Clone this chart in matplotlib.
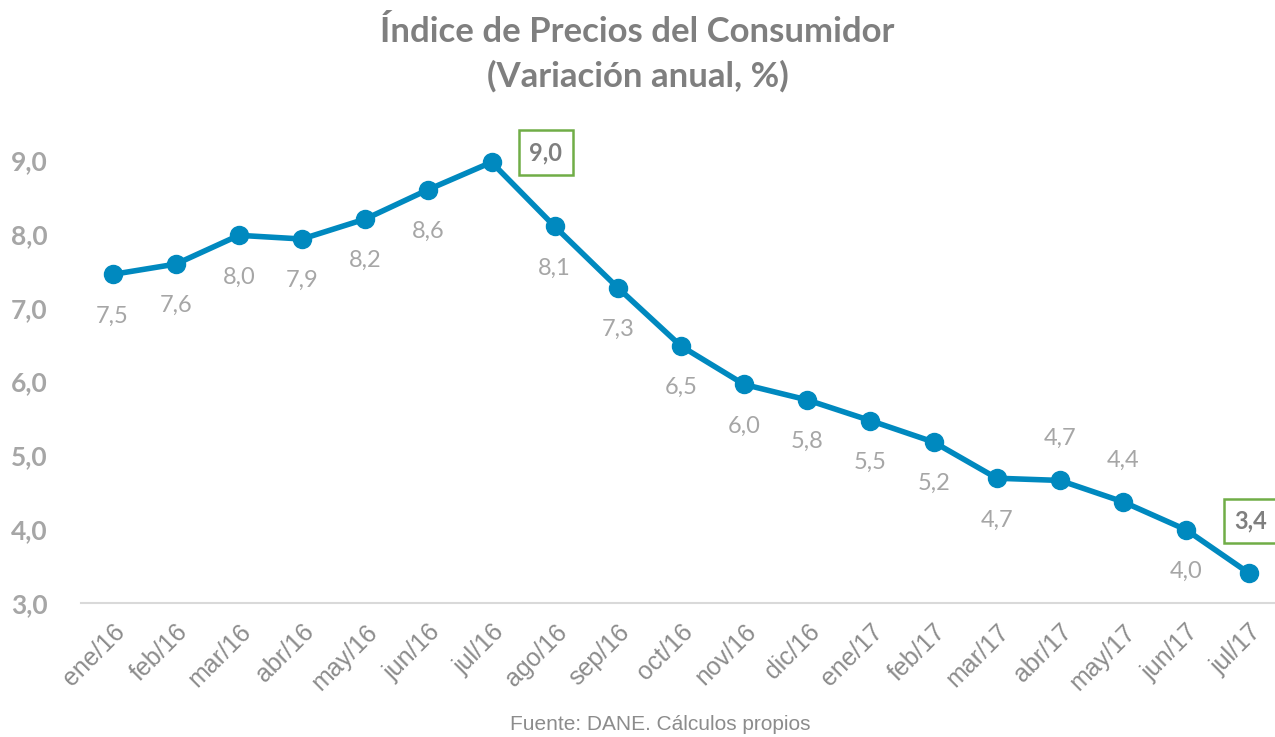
import matplotlib.pyplot as plt
from matplotlib.transforms import ScaledTranslation

meses = ['ene/16', 'feb/16', 'mar/16', 'abr/16', 'may/16', 'jun/16', 'jul/16',
         'ago/16', 'sep/16', 'oct/16', 'nov/16', 'dic/16', 'ene/17', 'feb/17',
         'mar/17', 'abr/17', 'may/17', 'jun/17', 'jul/17']
ipc = [7.45, 7.59, 7.98, 7.93, 8.20, 8.60, 8.97, 8.10, 7.27, 6.48, 5.96,
       5.75, 5.47, 5.18, 4.69, 4.66, 4.37, 3.99, 3.40]
# labels above the point (others go below), boxed ones highlighted
arriba = ['abr/17', 'may/17']
yticks = [3, 4, 5, 6, 7, 8, 9]

azul = '#0089BF'
gris = '#A6A6A6'
gris_osc = '#7F7F7F'
verde = '#70AD47'

fig = plt.figure(figsize=(12.75, 7.37), dpi=100)
ax = fig.add_axes([81 / 1275, 1 - 603 / 737, 1200 / 1275, 443 / 737])

x = list(range(len(meses)))
ax.plot(x, ipc, color=azul, lw=4, marker='o', ms=13, clip_on=False, zorder=3)

caja = dict(boxstyle='square,pad=0.45', fc='white', ec=verde, lw=1.8)
for i, (m, v) in enumerate(zip(meses, ipc)):
    txt = f'{v:.1f}'.replace('.', ',')
    if m == 'jul/16':
        ax.annotate(txt, (i, v), xytext=(39, 7), textcoords='offset points',
                    ha='center', va='center', fontsize=17, fontweight='bold',
                    color=gris_osc, family='Lato', bbox=caja)
    elif m == 'jul/17':
        ax.annotate(txt, (i, v), xytext=(1, 38), textcoords='offset points',
                    ha='center', va='center', fontsize=17, fontweight='bold',
                    color=gris_osc, family='Lato', annotation_clip=False, bbox=caja)
    elif m in arriba:
        ax.annotate(txt, (i, v), xytext=(0, 30), textcoords='offset points',
                    ha='center', va='center', fontsize=17, color=gris, family='Lato')
    else:
        ax.annotate(txt, (i, v), xytext=(0, -30), textcoords='offset points',
                    ha='center', va='center', fontsize=17, color=gris, family='Lato')

ax.set_xlim(-0.5, len(meses) - 0.5)
ax.set_ylim(3, 9)
ax.set_yticks(yticks)
ax.set_yticklabels([f'{t:.1f}'.replace('.', ',') for t in yticks],
                   fontsize=19, fontweight='bold', color=gris, family='Lato')
ax.set_xticks(x)
ax.set_xticklabels(meses, rotation=45, ha='right', rotation_mode='anchor',
                   fontsize=18, color='#8C8C8C', family='Liberation Sans')
desplaza = ScaledTranslation(-14 / 100, 0, fig.dpi_scale_trans)
for lab in ax.get_xticklabels():
    lab.set_transform(lab.get_transform() + desplaza)
ax.tick_params(axis='both', length=0)
ax.tick_params(axis='y', pad=24)
ax.tick_params(axis='x', pad=12)
for s in ['top', 'right', 'left']:
    ax.spines[s].set_visible(False)
ax.spines['bottom'].set_color('#D9D9D9')
ax.spines['bottom'].set_linewidth(1.5)

fig.text(0.5, 1 - 32 / 737, 'Índice de Precios del Consumidor', ha='center', va='center',
         fontsize=25, fontweight='bold', color=gris_osc, family='Lato')
fig.text(0.5, 1 - 76 / 737, '(Variación anual, %)', ha='center', va='center',
         fontsize=25, fontweight='bold', color=gris_osc, family='Lato')
fig.text(660 / 1275, 1 - 724 / 737, 'Fuente: DANE. Cálculos propios', ha='center', va='center',
         fontsize=15, color='#8C8C8C', family='Liberation Sans')

fig.savefig('out.png', dpi=100, facecolor='white')
